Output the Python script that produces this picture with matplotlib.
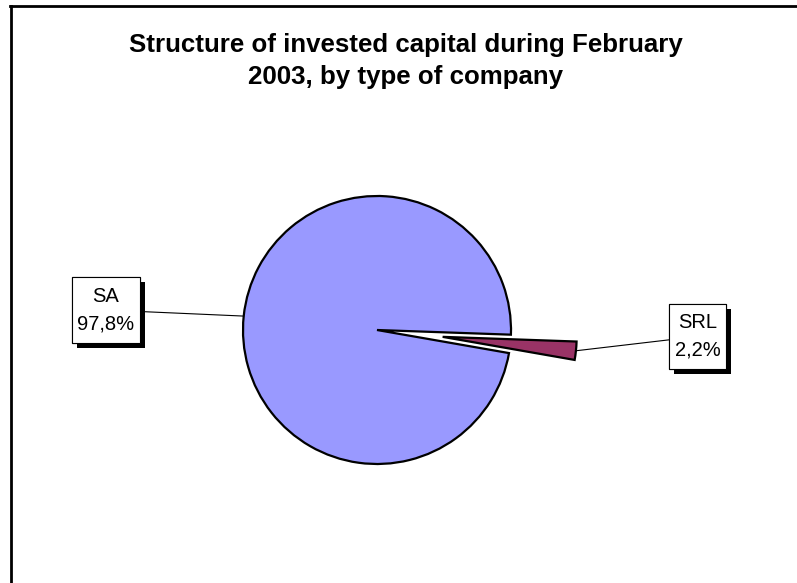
import numpy as np
import matplotlib
matplotlib.use("Agg")
import matplotlib.pyplot as plt
import matplotlib.patheffects as pe
from matplotlib.lines import Line2D
from matplotlib.patches import Rectangle

plt.rcParams["font.family"] = ["Liberation Sans", "DejaVu Sans"]

# data
categories = ["SA", "SRL"]
shares = [97.8, 2.2]
share_labels = ["97,8%", "2,2%"]
colors = ["#9999FF", "#993366"]
title_lines = ["Structure of invested capital during February", "2003, by type of company"]

W, H = 797, 583
fig = plt.figure(figsize=(W / 100, H / 100), dpi=100)
ax = fig.add_axes([0, 0, 1, 1])

# chart frame (cropped at right and bottom)
fig.add_artist(Line2D([10 / W, 1], [1 - 6 / H, 1 - 6 / H], color="black", lw=2, transform=fig.transFigure))
fig.add_artist(Line2D([11 / W, 11 / W], [0, 1 - 6 / H], color="black", lw=2, transform=fig.transFigure))

cx, cy, r = 377, H - 330, 134
wedges, _ = ax.pie(
    shares,
    colors=colors,
    startangle=-2,
    counterclock=True,
    explode=[0, 66],
    center=(cx, cy),
    radius=r,
    wedgeprops={"edgecolor": "black", "linewidth": 1.6},
    frame=True,
)
ax.set_xlim(0, W)
ax.set_ylim(0, H)
ax.set_aspect("equal")
ax.axis("off")

# label boxes: centre x, centre y, width, height (pixels)
boxes = [(106, H - 310, 68, 66), (697.5, H - 336.5, 57, 65)]
shadow = [pe.withSimplePatchShadow(offset=(3.6, -3.6), shadow_rgbFace="black", alpha=1.0), pe.Normal()]
for wedge, cat, lab, (bx, by, bw, bh) in zip(wedges, categories, share_labels, boxes):
    ang = np.deg2rad((wedge.theta1 + wedge.theta2) / 2)
    wx, wy = wedge.center
    tip = (wx + wedge.r * np.cos(ang), wy + wedge.r * np.sin(ang))
    ax.annotate(
        "",
        xy=tip,
        xytext=(bx, by),
        arrowprops={"arrowstyle": "-", "color": "black", "lw": 0.8, "shrinkA": 0, "shrinkB": 0},
        zorder=3,
    )
    rect = Rectangle((bx - bw / 2, by - bh / 2), bw, bh, facecolor="white", edgecolor="black", lw=0.8, zorder=4)
    rect.set_path_effects(shadow)
    ax.add_patch(rect)
    ax.text(bx, by + 14, cat, ha="center", va="center", fontsize=14.5, zorder=5)
    ax.text(bx, by - 14, lab, ha="center", va="center", fontsize=14.5, zorder=5)

for i, line in enumerate(title_lines):
    fig.text(406 / W, 1 - (52 + 32 * i) / H, line, ha="center", va="baseline", fontsize=18.6, fontweight="bold")

fig.savefig("out.png", dpi=100, facecolor="white")
